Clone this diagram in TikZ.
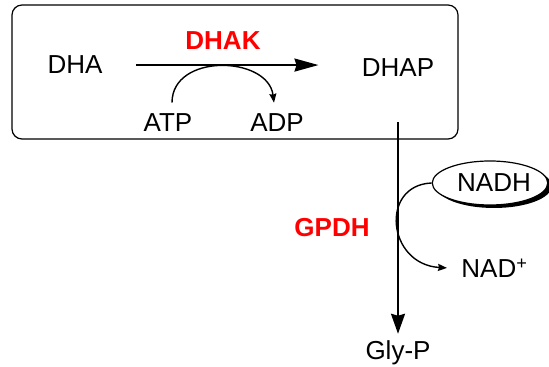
\documentclass[tikz,border=0pt]{standalone}
\usepackage{fontspec}
\setmainfont{Liberation Sans}
\usepackage{xcolor}
\usepackage{tikz}
\usetikzlibrary{arrows.meta,calc,shapes.geometric,shadows}
\definecolor{enzred}{RGB}{255,0,0}

\begin{document}
\begin{tikzpicture}[
  x=0.5pt, y=-0.5pt,
  font=\fontsize{13}{15}\selectfont,
  every node/.style={inner sep=3pt},
  met/.style={anchor=base},
  enz/.style={anchor=base, text=enzred, font=\fontsize{13}{15}\selectfont\bfseries},
  panel/.style={draw, rounded corners=5pt, line width=0.6pt, minimum width=223pt, minimum height=67pt},
  cof/.style={draw, ellipse, line width=0.6pt, fill=white, minimum width=53pt, minimum height=22pt, inner sep=0pt,
    drop shadow={shadow xshift=2pt, shadow yshift=-1.5pt, opacity=1, fill=black}},
  mainar/.style={line width=1pt, -{Stealth[length=12pt, width=6.5pt, inset=1pt]}},
  stepar/.style={line width=1pt, -{Stealth[length=10pt, width=7pt, inset=1pt]}},
  sidear/.style={line width=0.7pt, -{Stealth[length=4.5pt, width=3.5pt, inset=0.5pt]}},
]
\useasboundingbox (0,0) rectangle (549,367);
% kinase step
\node[panel] (box) at (235,72) {};
\node[met] (dha) at (75,74) {DHA};
\node[met] (dhap) at (398,77) {DHAP};
\node[enz] (dhak) at (223,50) {DHAK};
\node[met] (atp) at (168,132) {ATP};
\node[met] (adp) at (277,132) {ADP};
% ---- dehydrogenase step ----
\node[enz] (gpdh) at (332,237) {GPDH};
\node[cof] (nadh) at (490,183) {\hspace*{4pt}NADH};
\node[met, anchor=base west] (nad) at (455,278) {NAD\textsuperscript{+}};
\node[met] (glyp) at (398,359) {Gly-P};
% arrows
\draw[mainar, shorten <=13.5pt, shorten >=18.5pt] (dha.east) -- (dha.east -| dhap.west);
\draw[sidear] ($(atp.north)+(4,-5)$) .. controls +(0,-50) and +(-6,-47) .. ($(adp.north)+(-3,-5)$);
\draw[stepar, shorten <=19.5pt] (dhap.south) -- (glyp.north);
\draw[sidear, shorten >=4pt] (nadh.west) .. controls +(-52,2) and +(-68,-4) .. (nad.west);
\end{tikzpicture}
\end{document}
